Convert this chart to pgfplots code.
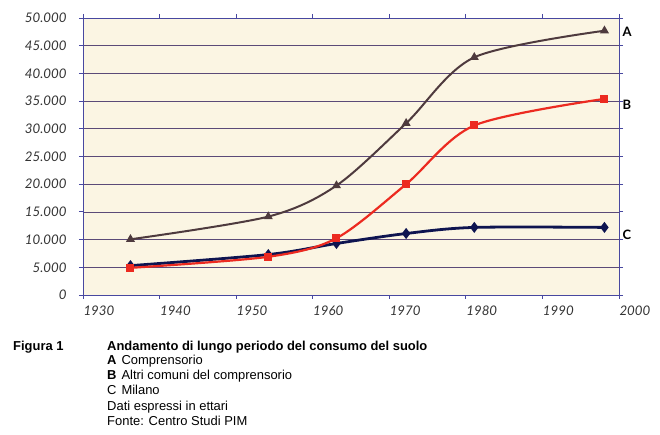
\documentclass[border=0pt]{standalone}
\usepackage{pgfplots}
\pgfplotsset{compat=1.18}
\usepackage{fontspec}
\setmainfont{Liberation Sans}
\newfontfamily\tickfont{Lato}
\definecolor{bgc}{HTML}{FBF5E3}
\definecolor{gridc}{HTML}{5B4A78}
\definecolor{axc}{HTML}{4848A0}
\definecolor{cA}{HTML}{4E3A3E}
\definecolor{cB}{HTML}{EC2A20}
\definecolor{cC}{HTML}{0E1450}
\definecolor{tickc}{HTML}{333333}
\begin{document}
\begin{tikzpicture}
\path (0bp,0bp) rectangle (660bp,435bp);
\begin{axis}[
  at={(83bp,140bp)}, anchor=south west,
  width=536bp, height=277bp, scale only axis,
  xmin=1930, xmax=2000, ymin=0, ymax=50000,
  xtick={1930,1940,...,2000},
  xticklabels={1930,1940,1950,1960,1970,1980,1990,2000},
  ytick={0,5000,...,50000},
  yticklabels={0,5.000,10.000,15.000,20.000,25.000,30.000,35.000,40.000,45.000,50.000},
  axis background/.style={fill=bgc},
  axis line style={axc, line width=0.9pt},
  ymajorgrids, grid style={gridc, line width=0.7pt},
  tick align=outside, major tick length=4bp,
  tick style={axc, line width=0.8pt},
  scaled y ticks=false,
  ticklabel style={font=\tickfont\itshape\fontsize{13.3}{15}\selectfont, text=tickc},
  xticklabel style={anchor=north west, xshift=-3bp, yshift=-3bp},
  yticklabel style={xshift=-9bp},
  clip=false,
]
\addplot[cA, line width=2pt, smooth, tension=0.5, mark=triangle*, mark size=3.3pt, mark options={solid}]
 coordinates {(1936.2,10050) (1954.2,14150) (1963.1,19750) (1972.2,31000) (1981.1,42900) (1998.1,47700)};
\addplot[cC, line width=2.8pt, smooth, tension=0.5, mark=diamond*, mark size=3.3pt]
 coordinates {(1936.2,5300) (1954.2,7300) (1963.1,9300) (1972.2,11100) (1981.1,12200) (1998.1,12200)};
\addplot[cB, line width=2.2pt, smooth, tension=0.5, mark=square*, mark size=2.9pt]
 coordinates {(1936.2,4900) (1954.2,6900) (1963.1,10250) (1972.2,20000) (1981.1,30600) (1998.1,35400)};
\node[anchor=west, font=\tickfont\bfseries\fontsize{13}{15}\selectfont] at (axis cs:2000,47500) {A};
\node[anchor=west, font=\tickfont\bfseries\fontsize{13}{15}\selectfont] at (axis cs:2000,34400) {B};
\node[anchor=west, font=\tickfont\bfseries\fontsize{13}{15}\selectfont] at (axis cs:2000,10800) {C};
\end{axis}
\begin{scope}[every node/.style={anchor=base west, inner sep=0pt, font=\fontsize{13}{15}\selectfont}]
\node at (13bp,84bp) {\bfseries Figura 1};
\node at (107bp,84bp) {\bfseries Andamento di lungo periodo del consumo del suolo};
\node at (107bp,70bp) {\textbf{A}\hspace{5bp}Comprensorio};
\node at (107bp,55bp) {\textbf{B}\hspace{5bp}Altri comuni del comprensorio};
\node at (107bp,40bp) {C\hspace{5bp}Milano};
\node at (107bp,25bp) {Dati espressi in ettari};
\node at (107bp,10bp) {Fonte: Centro Studi PIM};
\end{scope}
\end{tikzpicture}
\end{document}
